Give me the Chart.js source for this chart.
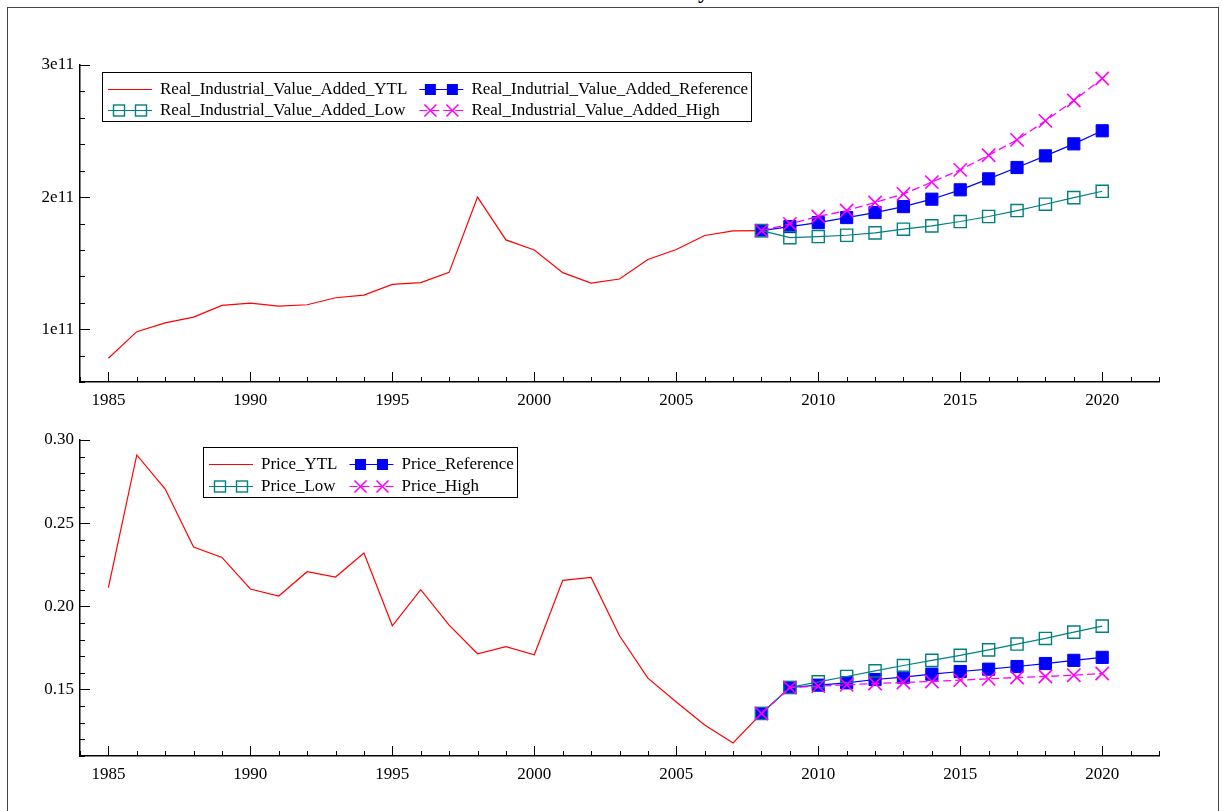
<!DOCTYPE html>
<html>
<head>
<meta charset="utf-8">
<script src="https://cdn.jsdelivr.net/npm/chart.js@4.4.0/dist/chart.umd.min.js"></script>
<style>
  html, body { margin:0; padding:0; background:#fff; width:1222px; height:811px; overflow:hidden; }
  #frame { position:absolute; left:7px; top:7px; width:1212px; height:830px; border:1px solid #444; box-sizing:border-box; }
  #title { position:absolute; right:513px; top:-20px; font:bold 22px "Liberation Serif", serif; line-height:22px; color:#000; white-space:nowrap; }
  #c1 { position:absolute; left:0; top:0; }
  #c2 { position:absolute; left:0; top:420px; }
</style>
</head>
<body>
<div id="frame"></div>
<div id="title">Industry</div>
<canvas id="c1" width="1222" height="420"></canvas>
<canvas id="c2" width="1222" height="391"></canvas>
<script>
// ---------- data ----------
const yearsHist = [1985,1986,1987,1988,1989,1990,1991,1992,1993,1994,1995,1996,1997,1998,1999,2000,2001,2002,2003,2004,2005,2006,2007,2008];
const yearsProj = [2008,2009,2010,2011,2012,2013,2014,2015,2016,2017,2018,2019,2020];
const xTickYears = [1985,1990,1995,2000,2005,2010,2015,2020];

// Real industrial value added
const rivaYTL = [0.78e11,0.981e11,1.048e11,1.091e11,1.18e11,1.197e11,1.175e11,1.185e11,1.238e11,1.258e11,1.339e11,1.352e11,1.43e11,2.0e11,1.676e11,1.60e11,1.428e11,1.349e11,1.38e11,1.527e11,1.603e11,1.709e11,1.744e11,1.746e11];
const rivaRef = [1.746e11,1.777e11,1.807e11,1.845e11,1.883e11,1.928e11,1.984e11,2.055e11,2.138e11,2.224e11,2.312e11,2.403e11,2.502e11];
const rivaLow = [1.746e11,1.693e11,1.701e11,1.711e11,1.729e11,1.757e11,1.782e11,1.815e11,1.853e11,1.898e11,1.946e11,1.996e11,2.044e11];
const rivaHigh = [1.746e11,1.797e11,1.853e11,1.898e11,1.959e11,2.024e11,2.113e11,2.206e11,2.317e11,2.433e11,2.577e11,2.731e11,2.898e11];
const yTicks1 = [1e11,2e11,3e11];
const yTickLabels1 = ['1e11','2e11','3e11'];

// Price
const priceYTL = [0.2112,0.291,0.2705,0.2356,0.2294,0.2104,0.2062,0.2208,0.2176,0.232,0.1883,0.2100,0.1887,0.1715,0.1757,0.1709,0.2156,0.2174,0.1823,0.1568,0.1425,0.1287,0.1178,0.1356];
const priceRef = [0.1356,0.1512,0.1526,0.1540,0.1560,0.1574,0.1592,0.1608,0.1622,0.1638,0.1656,0.1675,0.1693];
const priceLow = [0.1356,0.1512,0.1546,0.1578,0.1612,0.1644,0.1675,0.1705,0.1738,0.1773,0.1807,0.1845,0.1881];
const priceHigh = [0.1356,0.1512,0.1520,0.1528,0.1536,0.1542,0.1548,0.1556,0.1564,0.1572,0.1578,0.1586,0.1596];
const yTicks2 = [0.15,0.20,0.25,0.30];
const yTickLabels2 = ['0.15','0.20','0.25','0.30'];

const labels1 = ['Real_Industrial_Value_Added_YTL','Real_Indutrial_Value_Added_Reference','Real_Industrial_Value_Added_Low','Real_Industrial_Value_Added_High'];
const labels2 = ['Price_YTL','Price_Reference','Price_Low','Price_High'];

// ---------- helpers ----------
const FONT = '"Liberation Serif", "Times New Roman", serif';
const RED = '#ff0000', BLUE = '#0000ff', TEAL = '#008080', MAG = '#ff00ff';
const pts = (xs, ys) => xs.map((x, i) => ({x, y: ys[i]}));

function makeDatasets(lbls, hist, ref, low, high) {
  return [
    { label: lbls[0], data: pts(yearsHist, hist), borderColor: RED, borderWidth: 1.2, pointRadius: 0, order: 3, sym: 'none' },
    { label: lbls[1], data: pts(yearsProj, ref), borderColor: BLUE, backgroundColor: BLUE, borderWidth: 1.2,
      pointStyle: 'rect', pointRadius: 8.6, pointBackgroundColor: BLUE, pointBorderColor: BLUE, pointBorderWidth: 1, order: 2, sym: 'fill' },
    { label: lbls[2], data: pts(yearsProj, low), borderColor: TEAL, backgroundColor: 'rgba(0,0,0,0)', borderWidth: 1.2,
      pointStyle: 'rect', pointRadius: 8.6, pointBackgroundColor: 'rgba(0,0,0,0)', pointBorderColor: TEAL, pointBorderWidth: 1.4, order: 1, sym: 'open' },
    { label: lbls[3], data: pts(yearsProj, high), borderColor: MAG, backgroundColor: MAG, borderWidth: 1.3, borderDash: [8, 4],
      pointStyle: 'crossRot', pointRadius: 9.4, pointBorderColor: MAG, pointBorderWidth: 1.6, order: 0, sym: 'cross' }
  ];
}

const innerTicks = {
  id: 'innerTicks',
  afterDraw(chart, args, opts) {
    const {ctx, chartArea: a, scales: {x, y}} = chart;
    ctx.save();
    ctx.strokeStyle = '#000';
    ctx.lineWidth = 1;
    for (let v = x.min; v <= x.max + 1e-9; v += 1) {
      const px = Math.round(x.getPixelForValue(v)) + 0.5;
      const len = xTickYears.includes(v) ? 10 : 5;
      ctx.beginPath(); ctx.moveTo(px, a.bottom); ctx.lineTo(px, a.bottom - len); ctx.stroke();
    }
    const step = opts.yMinor;
    const n = Math.round((y.max - y.min) / step);
    for (let i = 0; i <= n; i++) {
      const v = y.min + i * step;
      const py = Math.round(y.getPixelForValue(v)) + 0.5;
      const major = opts.yMajor.some(t => Math.abs(t - v) < step / 10);
      const len = major ? 10 : 5;
      ctx.beginPath(); ctx.moveTo(a.left, py); ctx.lineTo(a.left + len, py); ctx.stroke();
    }
    ctx.restore();
  }
};

function drawSym(ctx, sym, cx, cy, color) {
  const s = 11;
  ctx.save();
  ctx.setLineDash([]);
  if (sym === 'fill') {
    ctx.fillStyle = color; ctx.fillRect(cx - s/2, cy - s/2, s, s);
  } else if (sym === 'open') {
    ctx.strokeStyle = color; ctx.lineWidth = 1.4; ctx.strokeRect(cx - s/2, cy - s/2, s, s);
  } else if (sym === 'cross') {
    ctx.strokeStyle = color; ctx.lineWidth = 1.6;
    const h = 6;
    ctx.beginPath(); ctx.moveTo(cx - h, cy - h); ctx.lineTo(cx + h, cy + h);
    ctx.moveTo(cx - h, cy + h); ctx.lineTo(cx + h, cy - h); ctx.stroke();
  }
  ctx.restore();
}

const boxLegend = {
  id: 'boxLegend',
  afterDraw(chart, args, opts) {
    const {ctx, chartArea: a} = chart;
    const ds = chart.data.datasets;
    ctx.save();
    ctx.font = '17px ' + FONT;
    ctx.textBaseline = 'middle';
    const symW = 44, gapT = 8, gapC = 12, padL = 6, padR = 4;
    const left = a.left + opts.dx;
    const row1 = a.top + opts.dy;
    const rowH = opts.rowH;
    const col1W = Math.max(ctx.measureText(ds[0].label).width, ctx.measureText(ds[2].label).width);
    const col2W = Math.max(ctx.measureText(ds[1].label).width, ctx.measureText(ds[3].label).width);
    const c1x = left + padL;
    const c2x = c1x + symW + gapT + col1W + gapC;
    const right = c2x + symW + gapT - 1 + col2W + padR;
    const top = row1 - 17, bottom = row1 + rowH + 11;
    ctx.fillStyle = '#fff';
    ctx.fillRect(left, top, right - left, bottom - top);
    ctx.strokeStyle = '#000'; ctx.lineWidth = 1;
    ctx.strokeRect(Math.round(left) + 0.5, Math.round(top) + 0.5, Math.round(right - left), Math.round(bottom - top));
    const order = [[0, c1x, row1], [1, c2x, row1], [2, c1x, row1 + rowH], [3, c2x, row1 + rowH]];
    for (const [i, sx, sy] of order) {
      const d = ds[i];
      ctx.save();
      ctx.strokeStyle = d.borderColor; ctx.lineWidth = 1.2;
      ctx.setLineDash(d.borderDash || []);
      ctx.beginPath(); ctx.moveTo(sx, sy + 0.5); ctx.lineTo(sx + symW, sy + 0.5); ctx.stroke();
      ctx.restore();
      if (d.sym !== 'none') {
        drawSym(ctx, d.sym, sx + 11, sy + 0.5, d.sym === 'open' ? TEAL : d.borderColor);
        drawSym(ctx, d.sym, sx + 33, sy + 0.5, d.sym === 'open' ? TEAL : d.borderColor);
      }
      ctx.fillStyle = '#000';
      ctx.fillText(d.label, sx + symW + gapT, sy + 1);
    }
    ctx.restore();
  }
};

function makeChart(id, datasets, yMin, yMax, yTicks, yLabels, yMinor, xHeight, padTop, legendOpts) {
  return new Chart(document.getElementById(id), {
    type: 'line',
    data: { datasets },
    plugins: [innerTicks, boxLegend],
    options: {
      responsive: false,
      animation: false,
      layout: { padding: { left: 0, top: padTop, right: 63, bottom: 0 } },
      elements: { line: { tension: 0 } },
      plugins: {
        legend: { display: false },
        tooltip: { enabled: false },
        innerTicks: { yMinor, yMajor: yTicks },
        boxLegend: legendOpts
      },
      scales: {
        x: {
          type: 'linear', position: 'bottom', min: 1984, max: 2022,
          afterBuildTicks: s => { s.ticks = xTickYears.map(v => ({value: v})); },
          afterFit: s => { s.height = xHeight; },
          grid: { display: true, drawOnChartArea: false, drawTicks: false },
          border: { display: true, color: '#000', width: 1.5 },
          ticks: { color: '#000', font: { family: FONT, size: 17 }, padding: 8, autoSkip: false, maxRotation: 0,
                   callback: v => String(v) }
        },
        y: {
          type: 'linear', position: 'left', min: yMin, max: yMax,
          afterBuildTicks: s => { s.ticks = yTicks.map(v => ({value: v})); },
          afterFit: s => { s.width = 80; },
          grid: { display: true, drawOnChartArea: false, drawTicks: false },
          border: { display: true, color: '#000', width: 1.5 },
          ticks: { color: '#000', font: { family: FONT, size: 17 }, padding: 6, autoSkip: false,
                   callback: v => { const k = yTicks.findIndex(t => Math.abs(t - v) < 1e-9 * Math.abs(t)); return k >= 0 ? yLabels[k] : ''; } }
        }
      }
    }
  });
}

makeChart('c1', makeDatasets(labels1, rivaYTL, rivaRef, rivaLow, rivaHigh), 0.6e11, 3e11, yTicks1, yTickLabels1, 0.2e11, 38, 65,
          { dx: 22, dy: 24, rowH: 21 });
makeChart('c2', makeDatasets(labels2, priceYTL, priceRef, priceLow, priceHigh), 0.11, 0.30, yTicks2, yTickLabels2, 0.01, 55, 20,
          { dx: 123, dy: 24, rowH: 22 });
</script>
</body>
</html>
